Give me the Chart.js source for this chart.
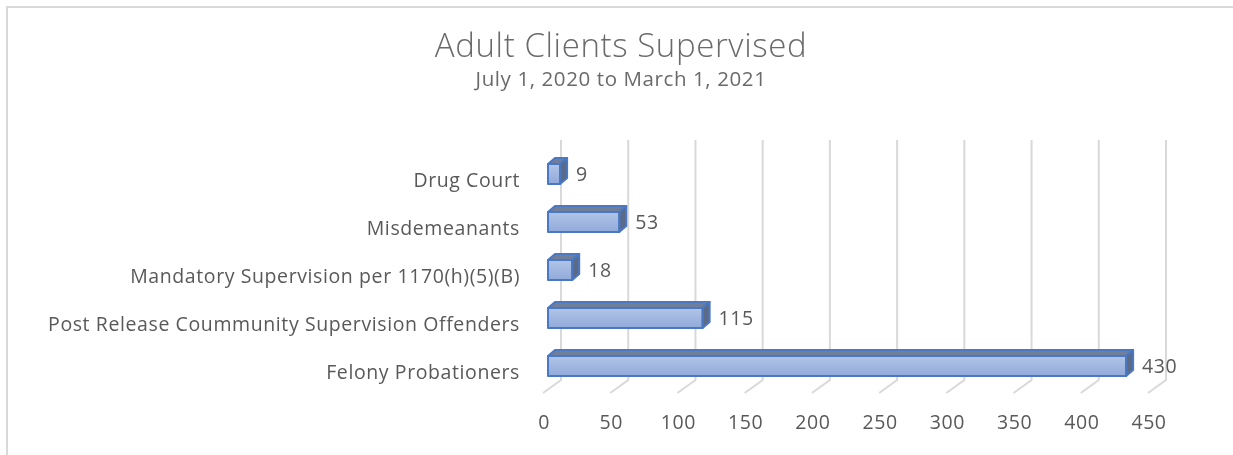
<!DOCTYPE html>
<html><head><meta charset="utf-8">
<script src="https://cdn.jsdelivr.net/npm/chart.js@4.4.0/dist/chart.umd.min.js"></script>
<style>html,body{margin:0;padding:0;background:#fff;overflow:hidden}canvas{display:block}</style>
</head><body>
<canvas id="c" width="1233" height="455"></canvas>
<script>
const titleText = 'Adult Clients Supervised';
const subtitleText = 'July 1, 2020 to March 1, 2021';
const categories = ['Drug Court', 'Misdemeanants', 'Mandatory Supervision per 1170(h)(5)(B)', 'Post Release Coummunity Supervision Offenders', 'Felony Probationers'];
const clientCounts = [9, 53, 18, 115, 430];
const xMin = 0, xMax = 450, xStep = 50;

const DX = 7, DY = -6;
const FONT = "'Open Sans'";
const TEXT = '#595959';

const framePlugin = {
  id: 'frame',
  beforeDraw(chart) {
    const ctx = chart.ctx;
    ctx.save();
    ctx.fillStyle = '#fff';
    ctx.fillRect(0, 0, chart.width, chart.height);
    ctx.strokeStyle = '#d9d9d9';
    ctx.lineWidth = 2;
    ctx.beginPath();
    ctx.moveTo(7, chart.height);
    ctx.lineTo(7, 7);
    ctx.lineTo(chart.width, 7);
    ctx.stroke();
    ctx.restore();
    if ('letterSpacing' in ctx) ctx.letterSpacing = '0.6px';
  }
};

const gridPlugin = {
  id: 'grid3d',
  beforeDatasetsDraw(chart) {
    const xs = chart.scales.x, a = chart.chartArea, ctx = chart.ctx;
    ctx.save();
    ctx.strokeStyle = '#d9d9d9';
    ctx.lineWidth = 2;
    xs.ticks.forEach(t => {
      const px = xs.getPixelForValue(t.value);
      ctx.beginPath();
      ctx.moveTo(px + 13, a.top - 10);
      ctx.lineTo(px + 13, a.bottom - 10);
      ctx.lineTo(px - 5, a.bottom + 3);
      ctx.stroke();
    });
    ctx.restore();
  }
};

const bar3dPlugin = {
  id: 'bar3d',
  afterDatasetsDraw(chart) {
    const meta = chart.getDatasetMeta(0);
    const ctx = chart.ctx;
    ctx.save();
    ctx.lineJoin = 'round';
    meta.data.forEach((el, i) => {
      const p = el.getProps(['x', 'y', 'base', 'height'], true);
      const l = p.base, r = p.x, t = p.y - p.height / 2, b = p.y + p.height / 2;
      const g = ctx.createLinearGradient(0, t, 0, b);
      g.addColorStop(0, '#b2c5e8');
      g.addColorStop(1, '#91aad9');
      ctx.fillStyle = g;
      ctx.fillRect(l, t, r - l, b - t);
      ctx.strokeStyle = '#4a78c2';
      ctx.lineWidth = 2;
      ctx.beginPath();
      ctx.moveTo(l, t); ctx.lineTo(l + DX, t + DY); ctx.lineTo(r + DX, t + DY); ctx.lineTo(r, t); ctx.closePath();
      ctx.fillStyle = '#6f7f9b';
      ctx.fill(); ctx.stroke();
      ctx.beginPath();
      ctx.moveTo(r, t); ctx.lineTo(r + DX, t + DY); ctx.lineTo(r + DX, b + DY); ctx.lineTo(r, b); ctx.closePath();
      ctx.fillStyle = '#5b6b87';
      ctx.fill(); ctx.stroke();
      ctx.strokeRect(l, t, r - l, b - t);
      ctx.fillStyle = TEXT;
      ctx.font = '19.5px ' + FONT;
      ctx.textAlign = 'left';
      ctx.textBaseline = 'middle';
      ctx.fillText(String(clientCounts[i]), r + DX + 9, p.y + 1);
    });
    ctx.restore();
  }
};

function draw() {
  new Chart(document.getElementById('c'), {
    type: 'bar',
    data: {
      labels: categories,
      datasets: [{
        data: clientCounts,
        backgroundColor: '#a3b8df',
        borderWidth: 0,
        barThickness: 20,
        xAxisID: 'x',
        yAxisID: 'y'
      }]
    },
    options: {
      indexAxis: 'y',
      responsive: false,
      animation: false,
      devicePixelRatio: 1,
      layout: { padding: { top: 0, right: 0, bottom: 0, left: 9 } },
      plugins: {
        legend: { display: false },
        tooltip: { enabled: false },
        title: {
          display: true, text: titleText, color: '#6a6a6a',
          font: { family: FONT, size: 33, weight: '300', lineHeight: 1 },
          padding: { top: 31.5, bottom: 0 }
        },
        subtitle: {
          display: true, text: subtitleText, color: '#6a6a6a',
          font: { family: FONT, size: 20.5, weight: 'normal', lineHeight: 1 },
          padding: { top: 5, bottom: 60 }
        }
      },
      scales: {
        x: {
          min: xMin, max: xMax,
          ticks: { stepSize: xStep, color: TEXT, font: { family: FONT, size: 19.5 }, padding: 14, labelOffset: -4, maxRotation: 0 },
          grid: { display: false },
          border: { display: false },
          afterFit(s) { s.height = 65; }
        },
        y: {
          ticks: { color: TEXT, font: { family: FONT, size: 19.5 }, padding: 20, labelOffset: 7, autoSkip: false },
          grid: { display: false },
          border: { display: false },
          afterFit(s) { s.width = 539; }
        },
        y2: {
          type: 'linear', position: 'right', min: 0, max: 1,
          ticks: { display: false },
          grid: { display: false },
          border: { display: false },
          afterFit(s) { s.width = 80; }
        }
      }
    },
    plugins: [framePlugin, gridPlugin, bar3dPlugin]
  });
}
if (document.fonts && document.fonts.load) {
  Promise.all([document.fonts.load("19.5px 'Open Sans'"), document.fonts.load("300 33px 'Open Sans'")]).then(draw, draw);
} else { draw(); }
</script>
</body></html>
